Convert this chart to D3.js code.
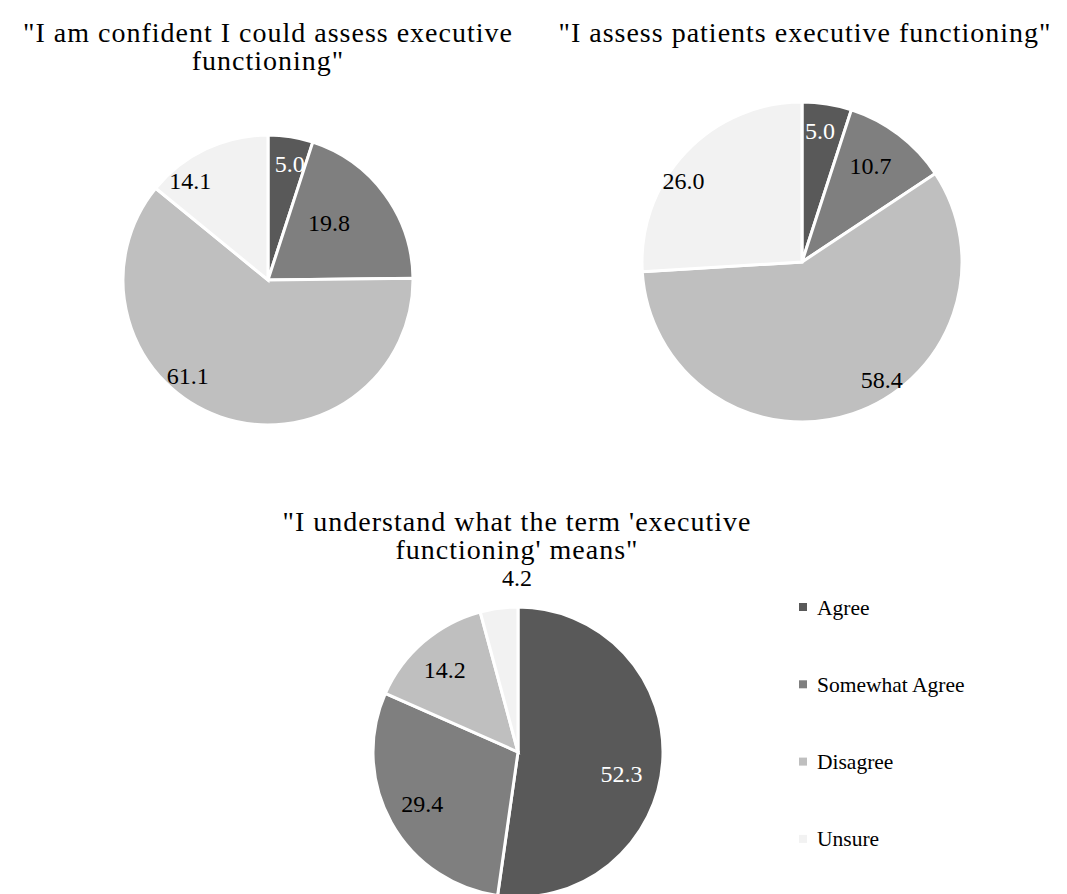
<!DOCTYPE html>
<html>
<head>
<meta charset="utf-8">
<script src="https://cdn.jsdelivr.net/npm/d3@7"></script>
<style>
  html, body { margin: 0; padding: 0; background: #ffffff; }
  svg { display: block; }
</style>
</head>
<body>
<svg id="chart" width="1067" height="894"></svg>
<script>
// Response categories (shared by all three questions)
const categories = ["Agree", "Somewhat Agree", "Disagree", "Unsure"];

// Percentages per question, in category order
const confidentValues = [5.0, 19.8, 61.1, 14.1];
const assessValues = [5.0, 10.7, 58.4, 26.0];
const understandValues = [52.3, 29.4, 14.2, 4.2];

// Question titles (line-broken)
const confidentTitle = ["\"I am confident I could assess executive", "functioning\""];
const assessTitle = ["\"I assess patients executive functioning\""];
const understandTitle = ["\"I understand what the term 'executive", "functioning' means\""];

const FONT = "'Liberation Serif', 'Times New Roman', Tinos, 'DejaVu Serif', serif";

const colors = d3.scaleOrdinal()
  .domain(categories)
  .range(["#595959", "#7f7f7f", "#bfbfbf", "#f2f2f2"]);

// Label text colour: white on the darkest slice
const labelFill = d => d.data.cat === "Agree" ? "#ffffff" : "#000000";

// Per-slice label placement: [angle in degrees clockwise from 12 o'clock, fraction of radius]
const panels = [
  { values: confidentValues, title: confidentTitle, cx: 268, cy: 280, r: 145, titleX: 268, titleY: 32,
    labelPos: [[10.6, 0.82], [46.5, 0.58], [220, 0.86], [322, 0.87]] },
  { values: assessValues, title: assessTitle, cx: 802, cy: 262, r: 160, titleX: 805, titleY: 32,
    labelPos: [[7.8, 0.83], [35.3, 0.74], [145.9, 0.89], [304.6, 0.9]] },
  { values: understandValues, title: understandTitle, cx: 518, cy: 752, r: 145, titleX: 517, titleY: 521,
    labelPos: [[102, 0.73], [241.6, 0.75], [318.3, 0.76], [359.7, 1.2]] }
];

const svg = d3.select("#chart");

const pie = d3.pie()
  .value(d => d.value)
  .sort(null);

panels.forEach(p => {
  const g = svg.append("g").attr("transform", `translate(${p.cx},${p.cy})`);
  const arc = d3.arc().innerRadius(0).outerRadius(p.r);
  const data = pie(p.values.map((v, i) => ({ cat: categories[i], value: v })));

  g.selectAll("path.slice")
    .data(data)
    .join("path")
    .attr("class", "slice")
    .attr("d", arc)
    .attr("fill", d => colors(d.data.cat))
    .attr("stroke", "#ffffff")
    .attr("stroke-width", 3)
    .attr("stroke-linejoin", "miter");

  g.selectAll("text.value")
    .data(data)
    .join("text")
    .attr("class", "value")
    .attr("x", (d, i) => Math.sin(p.labelPos[i][0] * Math.PI / 180) * p.labelPos[i][1] * p.r)
    .attr("y", (d, i) => -Math.cos(p.labelPos[i][0] * Math.PI / 180) * p.labelPos[i][1] * p.r)
    .attr("text-anchor", "middle")
    .attr("dy", "0.35em")
    .attr("font-family", FONT)
    .attr("font-size", 24)
    .attr("fill", labelFill)
    .text(d => d3.format(".1f")(d.data.value));

  const t = svg.append("text")
    .attr("x", p.titleX)
    .attr("y", p.titleY)
    .attr("text-anchor", "middle")
    .attr("font-family", FONT)
    .attr("font-size", 28)
    .attr("letter-spacing", 1)
    .attr("fill", "#000000");
  p.title.forEach((line, i) => {
    t.append("tspan")
      .attr("x", p.titleX)
      .attr("dy", i === 0 ? "0.35em" : 28)
      .text(line);
  });
});

// Legend
const legend = svg.append("g").attr("transform", "translate(803,607)");
const item = legend.selectAll("g")
  .data(categories)
  .join("g")
  .attr("transform", (d, i) => `translate(0,${i * 77.3})`);
item.append("rect")
  .attr("x", -4).attr("y", -4)
  .attr("width", 8).attr("height", 8)
  .attr("fill", d => colors(d));
item.append("text")
  .attr("x", 14)
  .attr("y", 0)
  .attr("dy", "0.35em")
  .attr("font-family", FONT)
  .attr("font-size", 21.5)
  .attr("fill", "#000000")
  .text(d => d);
</script>
</body>
</html>
